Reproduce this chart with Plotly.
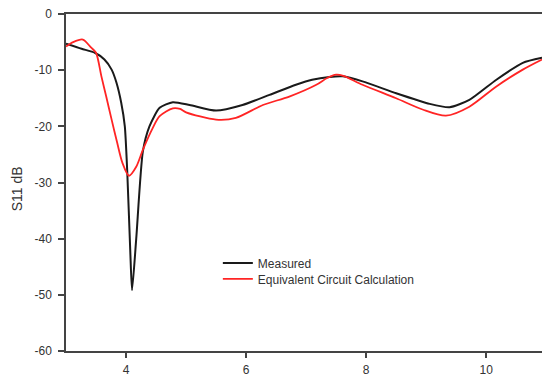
import plotly.graph_objects as go

# Frequency (GHz) and S11 (dB) for the measured response
freq_measured = [3.0, 3.26, 3.48, 3.64, 3.76, 3.84, 3.92, 3.98, 4.02, 4.07, 4.1,
                 4.17, 4.28, 4.39, 4.56, 4.78, 5.06, 5.5, 5.94, 6.39, 6.83, 7.1,
                 7.39, 7.61, 7.94, 8.5, 9.06, 9.39, 9.72, 10.17, 10.61, 10.93]
s11_measured = [-5.3, -6.2, -6.9, -8.1, -9.9, -12.2, -15.8, -20.0, -28.0, -42.0, -49.2,
                -40.0, -24.5, -20.0, -16.7, -15.7, -16.2, -17.2, -16.2, -14.4, -12.6, -11.7,
                -11.2, -11.1, -12.0, -14.1, -16.0, -16.6, -15.3, -11.7, -8.7, -7.8]

# Frequency (GHz) and S11 (dB) from the equivalent circuit model
freq_circuit = [3.0, 3.12, 3.28, 3.42, 3.5, 3.59, 3.67, 3.76, 3.85, 3.94, 4.05, 4.17,
                4.28, 4.44, 4.56, 4.78, 4.9, 5.0, 5.5, 5.83, 6.28, 6.72, 7.17, 7.35,
                7.5, 7.62, 7.94, 8.5, 8.94, 9.33, 9.72, 10.17, 10.61, 10.93]
s11_circuit = [-5.8, -5.0, -4.55, -6.0, -6.9, -11.1, -14.7, -18.8, -22.8, -26.5, -28.8, -27.2,
               -24.2, -20.4, -18.2, -16.8, -16.9, -17.5, -18.8, -18.5, -16.2, -14.7, -12.6, -11.4,
               -10.8, -11.0, -12.6, -15.0, -17.0, -18.1, -16.5, -12.9, -9.9, -8.1]

x_ticks = [4, 6, 8, 10]
y_ticks = [0, -10, -20, -30, -40, -50, -60]

axis_color = "#444444"
text_color = "#333333"
font_family = "Liberation Sans, Arial, sans-serif"

fig = go.Figure()
fig.add_trace(go.Scatter(
    x=freq_measured, y=s11_measured, mode="lines", name="Measured",
    line=dict(color="#1a1a1a", width=2, shape="spline", smoothing=0.6),
    legend="legend",
))
fig.add_trace(go.Scatter(
    x=freq_circuit, y=s11_circuit, mode="lines", name="Equivalent Circuit Calculation",
    line=dict(color="#ff2424", width=1.8, shape="spline", smoothing=0.8),
    legend="legend2",
))

legend_style = dict(
    xanchor="left", yanchor="top",
    bgcolor="rgba(0,0,0,0)", borderwidth=0,
    font=dict(size=12, color=text_color),
)

fig.update_layout(
    width=542, height=376,
    margin=dict(l=66, r=0, t=14, b=25),
    paper_bgcolor="white", plot_bgcolor="white",
    font=dict(family=font_family, size=12, color=text_color),
    showlegend=True,
    legend=dict(x=0.319, y=0.3045, **legend_style),
    legend2=dict(x=0.319, y=0.257, **legend_style),
    xaxis=dict(
        range=[3, 10.93], tickvals=x_ticks, ticktext=[str(v) for v in x_ticks],
        showgrid=False, zeroline=False,
        showline=True, linecolor=axis_color, linewidth=1.5, mirror=True,
        ticks="outside", ticklen=5, tickwidth=1.5, tickcolor=axis_color,
        ticklabelstandoff=2, automargin=False,
    ),
    yaxis=dict(
        range=[-60, 0], tickvals=y_ticks, ticktext=[str(v) for v in y_ticks],
        showgrid=False, zeroline=False,
        showline=True, linecolor=axis_color, linewidth=1.5,
        ticks="outside", ticklen=6, tickwidth=1.5, tickcolor=axis_color,
        ticklabelstandoff=4, automargin=False,
    ),
    annotations=[dict(
        text="S11 dB", xref="paper", yref="paper", x=0, y=0.48,
        xanchor="center", yanchor="middle", xshift=-49, showarrow=False,
        textangle=-90, font=dict(size=14, color=text_color),
    )],
)

fig.write_html("out.html")
